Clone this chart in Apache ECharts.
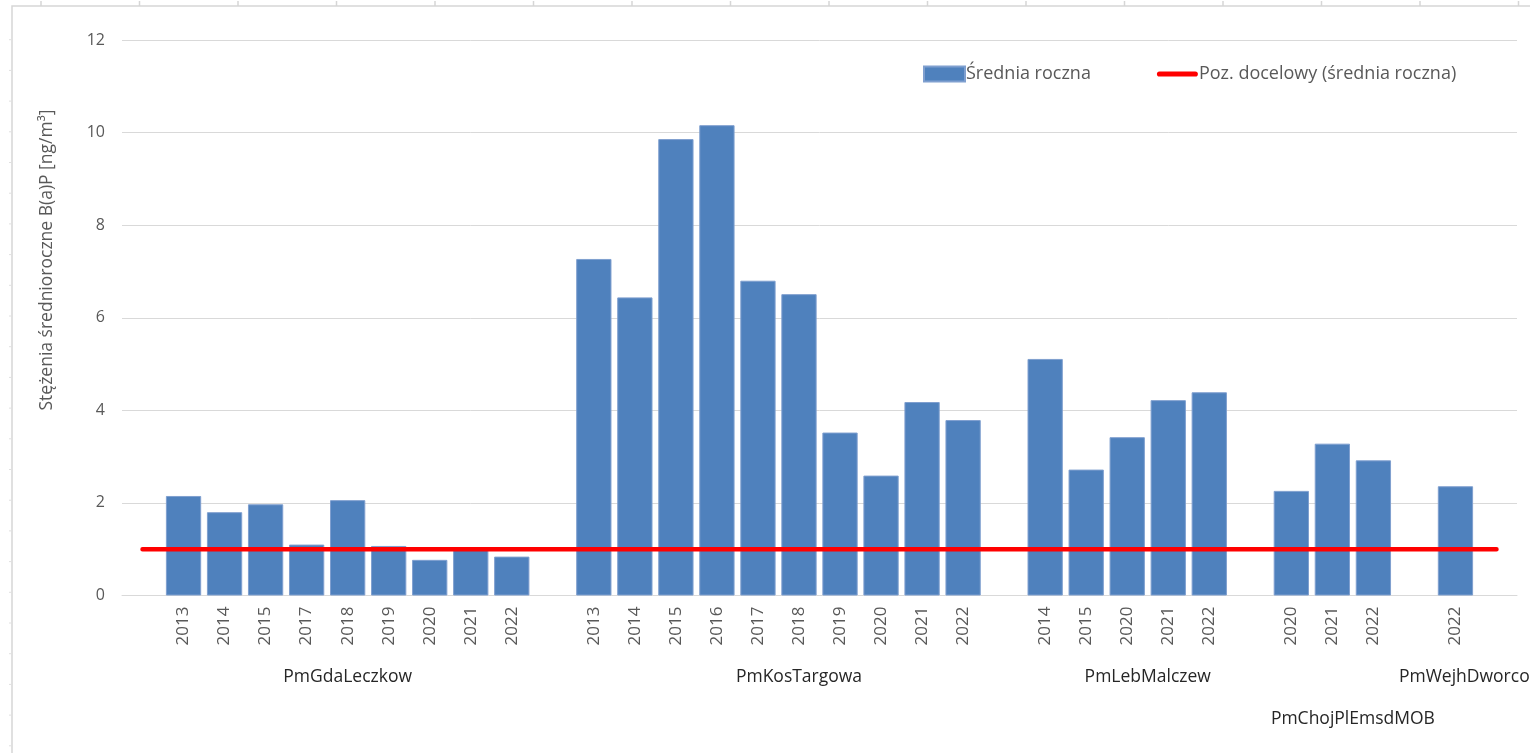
<!DOCTYPE html>
<html><head><meta charset="utf-8">
<style>html,body{margin:0;padding:0;background:#fff}#c{width:1530px;height:753px}</style>
<script src="https://cdn.jsdelivr.net/npm/echarts@6/dist/echarts.min.js"></script>
</head><body><div id="c"></div>
<script>
// ---- data ----
const stations = ['PmGdaLeczkow', 'PmKosTargowa', 'PmLebMalczew', 'PmChojPlEmsdMOB', 'PmWejhDworcowa'];
const gdaYears = ['2013', '2014', '2015', '2017', '2018', '2019', '2020', '2021', '2022'];
const gdaValues = [2.15, 1.80, 1.97, 1.10, 2.06, 1.07, 0.77, 1.01, 0.84];
const kosYears = ['2013', '2014', '2015', '2016', '2017', '2018', '2019', '2020', '2021', '2022'];
const kosValues = [7.27, 6.44, 9.86, 10.16, 6.80, 6.51, 3.52, 2.59, 4.18, 3.79];
const lebYears = ['2014', '2015', '2020', '2021', '2022'];
const lebValues = [5.11, 2.72, 3.42, 4.22, 4.39];
const chojYears = ['2020', '2021', '2022'];
const chojValues = [2.26, 3.28, 2.92];
const wejhYears = ['2022'];
const wejhValues = [2.36];
const targetValue = 1;
const seriesNames = ['Średnia roczna', 'Poz. docelowy (średnia roczna)'];
const yAxisTitle = 'Stężenia średnioroczne B(a)P [ng/m³]';
const yMin = 0, yMax = 12, yInterval = 2;

// ---- build category table ----
const groups = [[gdaYears, gdaValues], [kosYears, kosValues], [lebYears, lebValues], [chojYears, chojValues], [wejhYears, wejhValues]];
const categories = [''];
const barData = [null];
const spans = [];
groups.forEach(function (g, i) {
  const start = i === 0 ? 0 : categories.length;
  g[0].forEach(function (y, j) { categories.push(y); barData.push(g[1][j]); });
  categories.push(''); barData.push(null);
  spans.push([start, categories.length - 1]);
});
const lineData = categories.map(function () { return targetValue; });

const FONT = '"Open Sans", "Noto Sans", sans-serif';
const chart = echarts.init(document.getElementById('c'), null, { renderer: 'canvas' });
const option = {
  animation: false,
  backgroundColor: '#ffffff',
  textStyle: { fontFamily: FONT },
  grid: { left: 122, right: 13, top: 40, bottom: 157.5 },
  legend: {
    left: 923, top: 65, padding: 0,
    itemWidth: 41, itemHeight: 15, itemGap: 66,
    textStyle: { fontSize: 18, color: '#595959', fontFamily: FONT, padding: [0, 0, 0, -4] },
    data: [
      { name: seriesNames[0], icon: 'rect' },
      { name: seriesNames[1], icon: 'path://M2.5,0 H37.5 A2.5,2.5 0 0 1 37.5,5 H2.5 A2.5,2.5 0 0 1 2.5,0 Z' }
    ]
  },
  xAxis: {
    type: 'category', data: categories,
    axisTick: { show: false },
    axisLine: { lineStyle: { color: '#d9d9d9', width: 1 } },
    axisLabel: { rotate: 90, interval: 0, margin: 11, fontSize: 17, color: '#595959', fontFamily: FONT }
  },
  yAxis: {
    type: 'value', min: yMin, max: yMax, interval: yInterval,
    axisLine: { show: false }, axisTick: { show: false },
    axisLabel: { margin: 17, fontSize: 16, color: '#595959', fontFamily: FONT },
    splitLine: { lineStyle: { color: '#d9d9d9', width: 1 } }
  },
  series: [
    { type: 'bar', name: seriesNames[0], data: barData, barCategoryGap: '14%',
      itemStyle: { color: '#4F81BD', borderColor: '#7f9fcf', borderWidth: 1 } },
    { type: 'line', name: seriesNames[1], data: lineData, symbol: 'none', symbolKeepAspect: true, z: 3,
      lineStyle: { color: '#FF0000', width: 4.5, cap: 'round' }, itemStyle: { color: '#FF0000' } }
  ]
};
chart.setOption(option);

// ---- group labels (multi-level category axis) ----
const px = function (i) { return chart.convertToPixel({ xAxisIndex: 0 }, i); };
const ctx = document.createElement('canvas').getContext('2d');
const groupFont = 17.5;
ctx.font = groupFont + 'px "Open Sans"';
const labelInfo = spans.map(function (s, i) {
  const cx = (px(s[0]) + px(s[1])) / 2;
  const w = ctx.measureText(stations[i]).width;
  return { cx: cx, w: w, row: 0, text: stations[i] };
});
let lastLeft = Infinity;
for (let i = labelInfo.length - 1; i >= 0; i--) {
  const L = labelInfo[i];
  if (L.cx + L.w / 2 + 4 > lastLeft) { L.row = 1; } else { L.row = 0; lastLeft = L.cx - L.w / 2; }
}
const axisY = chart.convertToPixel({ yAxisIndex: 0 }, 0);
const graphics = [];
labelInfo.forEach(function (L) {
  graphics.push({ type: 'text', x: L.cx, y: axisY + 81.5 + L.row * 42, silent: true,
    style: { text: L.text, fill: '#262626', font: groupFont + 'px ' + FONT, textAlign: 'center', textVerticalAlign: 'middle' } });
});
// y-axis title
graphics.push({ type: 'text', x: 47, y: 260, rotation: Math.PI / 2, silent: true,
  style: { text: yAxisTitle, fill: '#595959', font: '17.5px ' + FONT, textAlign: 'center', textVerticalAlign: 'middle' } });
// sheet frame around the chart
graphics.push({ type: 'polyline', silent: true, shape: { points: [[12, 760], [12, 6], [1540, 6]] },
  style: { stroke: '#d6d6d6', lineWidth: 1.5, fill: null } });
for (let x = 41; x < 1530; x += 98.5) {
  graphics.push({ type: 'line', silent: true, shape: { x1: x, y1: 1, x2: x, y2: 6 }, style: { stroke: '#d6d6d6', lineWidth: 1.5 } });
}
for (let y = 39.7; y < 753; y += 30.7) {
  graphics.push({ type: 'line', silent: true, shape: { x1: 9, y1: y, x2: 12, y2: y }, style: { stroke: '#e0e0e0', lineWidth: 1 } });
}
chart.setOption({ graphic: graphics });
</script></body></html>
